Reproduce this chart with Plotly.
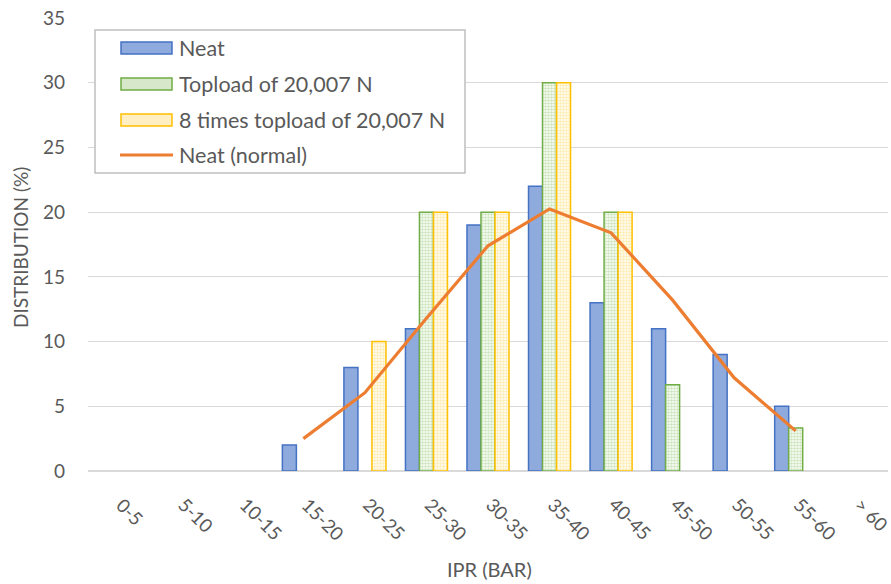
import plotly.graph_objects as go

categories = ['0-5', '5-10', '10-15', '15-20', '20-25', '25-30', '30-35',
              '35-40', '40-45', '45-50', '50-55', '55-60', '> 60']
neat = [None, None, None, 2, 8, 11, 19, 22, 13, 11, 9, 5, None]
topload = [None, None, None, None, None, 20, 20, 30, 20, 6.67, None, 3.33, None]
topload8 = [None, None, None, None, 10, 20, 20, 30, 20, None, None, None, None]
neat_normal = [None, None, None, 2.5, 6.05, 11.8, 17.4, 20.25, 18.4, 13.2, 7.2, 3.1, None]

series_names = ["Neat", "Topload of 20,007 N", "8 times topload of 20,007 N", "Neat (normal)"]

FONT = "Lato"
GREY = "#595959"
W, H = 891, 584
ML, MR, MT, MB = 88, 3, 18, 113
PW, PH = W - ML - MR, H - MT - MB


def px_x(px):
    return (px - ML) / PW


def px_y(py):
    return (H - MB - py) / PH


fig = go.Figure()
fig.add_trace(go.Bar(
    x=categories, y=neat, name=series_names[0],
    marker=dict(color="#8FAADC", line=dict(color="#4472C4", width=1.5)),
))
fig.add_trace(go.Bar(
    x=categories, y=topload, name=series_names[1],
    marker=dict(color="white", line=dict(color="#70AD47", width=1.5),
                pattern=dict(shape=".", fgcolor="#9CCB7E", bgcolor="white",
                             size=3, solidity=0.6)),
))
fig.add_trace(go.Bar(
    x=categories, y=topload8, name=series_names[2],
    marker=dict(color="white", line=dict(color="#FFC000", width=1.5),
                pattern=dict(shape=".", fgcolor="#FFD966", bgcolor="white",
                             size=3, solidity=0.6)),
))
fig.add_trace(go.Scatter(
    x=categories, y=neat_normal, name=series_names[3], mode="lines",
    line=dict(color="#ED7D31", width=3.2),
))

# custom legend (box, swatches, labels)
shapes = [dict(type="rect", xref="paper", yref="paper",
               x0=px_x(95), x1=px_x(465), y0=px_y(173), y1=px_y(30),
               line=dict(color="#BFBFBF", width=1.5), fillcolor="white", layer="above")]
rows_y = [48, 84, 120, 155]
sw_styles = [("#8FAADC", "#4472C4"), ("#D6E8C9", "#70AD47"), ("#FFEFC2", "#FFC000")]
for i, (fc, lc) in enumerate(sw_styles):
    cy = rows_y[i]
    shapes.append(dict(type="rect", xref="paper", yref="paper",
                       x0=px_x(121), x1=px_x(172), y0=px_y(cy + 6), y1=px_y(cy - 6),
                       line=dict(color=lc, width=1.5), fillcolor=fc, layer="above"))
shapes.append(dict(type="line", xref="paper", yref="paper",
                   x0=px_x(120), x1=px_x(173), y0=px_y(rows_y[3]), y1=px_y(rows_y[3]),
                   line=dict(color="#ED7D31", width=3), layer="above"))

annotations = []
for name, cy in zip(series_names, rows_y):
    annotations.append(dict(text=name, xref="paper", yref="paper",
                            x=px_x(177), y=px_y(cy), xanchor="left", yanchor="middle",
                            showarrow=False, font=dict(family=FONT, size=21.5, color=GREY)))
# rotated category labels
for c in categories:
    annotations.append(dict(text=c, xref="x", yref="paper", x=c, y=px_y(491),
                            xanchor="left", yanchor="top", xshift=-9, textangle=45,
                            showarrow=False, font=dict(family=FONT, size=18.5, color=GREY)))
annotations.append(dict(text="IPR (BAR)", xref="paper", yref="paper",
                        x=px_x(490), y=px_y(569), xanchor="center", yanchor="middle",
                        showarrow=False, font=dict(family=FONT, size=20, color=GREY)))
annotations.append(dict(text="DISTRIBUTION (%)", xref="paper", yref="paper",
                        x=px_x(21), y=px_y(248), xanchor="center", yanchor="middle",
                        textangle=-90, showarrow=False,
                        font=dict(family=FONT, size=19, color=GREY)))

fig.update_layout(
    width=W, height=H,
    margin=dict(l=ML, r=MR, t=MT, b=MB, autoexpand=False),
    paper_bgcolor="white", plot_bgcolor="white",
    font=dict(family=FONT, size=19, color=GREY),
    barmode="group", bargap=0.317, bargroupgap=0,
    showlegend=False,
    shapes=shapes,
    annotations=annotations,
)
fig.update_xaxes(
    type="category", range=[-0.5, len(categories) - 0.5], autorange=False,
    showgrid=False, showticklabels=False,
    showline=True, linecolor="#D9D9D9", linewidth=1, ticks="",
)
fig.update_yaxes(
    range=[0, 35], dtick=5, showgrid=True, gridcolor="#D9D9D9", gridwidth=1,
    zeroline=True, zerolinecolor="#D9D9D9", showline=False,
    ticks="", ticklabelstandoff=22,
    tickfont=dict(size=19, color=GREY),
)

fig.write_html("out.html")
